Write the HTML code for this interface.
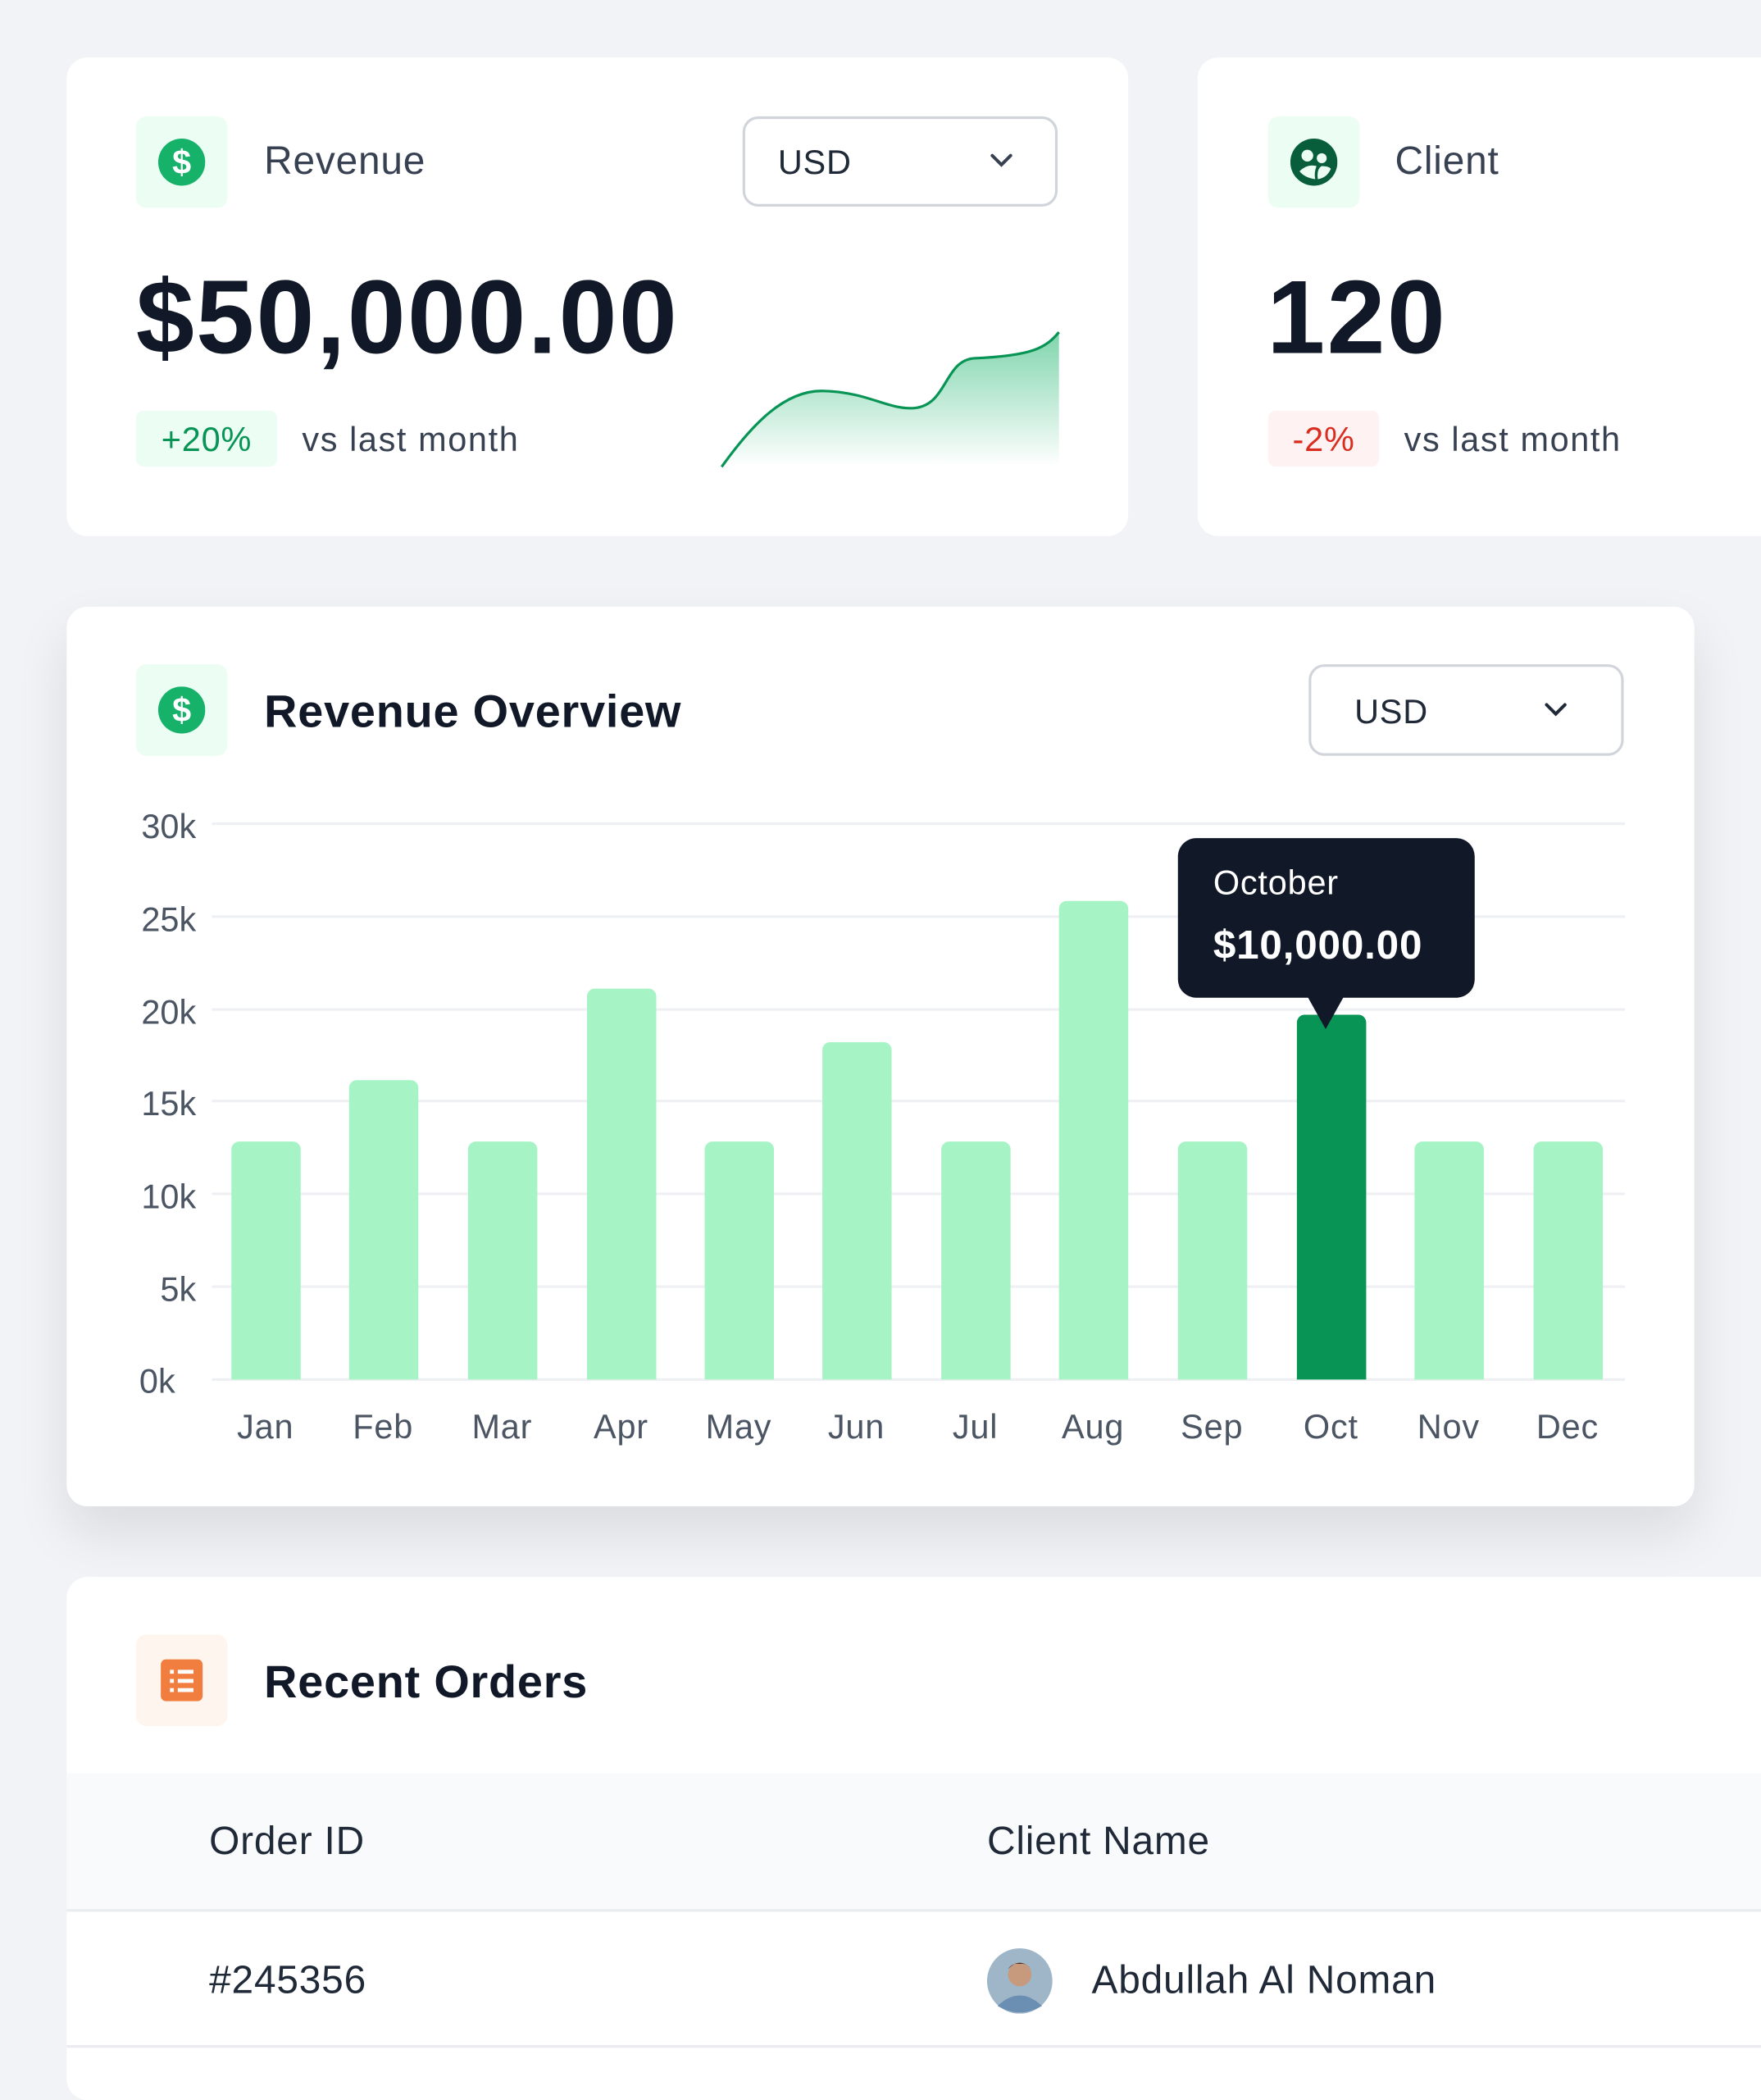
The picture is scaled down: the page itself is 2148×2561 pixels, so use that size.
<!DOCTYPE html>
<html><head><meta charset="utf-8"><style>
html,body{margin:0;padding:0;background:#f1f3f6;overflow:hidden}
body{width:2148px;height:2500px;font-family:"Liberation Sans",sans-serif}
#w{position:absolute;left:0;top:0;width:1347px;height:1568px;transform:scale(1.59466);transform-origin:0 0;}
.a{position:absolute}
.card{position:absolute;background:#fff;border-radius:16px}
.ib{position:absolute;width:70px;height:70px;border-radius:8px;background:#ecfdf3}
.t{position:absolute;white-space:nowrap;line-height:1;letter-spacing:0.5px}
.dd{position:absolute;border:2px solid #d1d5db;border-radius:12px;box-sizing:border-box;background:#fff}
.bar{position:absolute;width:53px;background:#a6f4c5;border-radius:6px 6px 0 0}
.gl{position:absolute;left:162px;width:1081px;height:2px;background:#eef0f3}
.yl{position:absolute;width:60px;left:90px;text-align:right;font-size:26px;color:#4b5563;line-height:1}
.ml{position:absolute;width:100px;text-align:center;font-size:26px;color:#4b5563;line-height:1;top:1078px;letter-spacing:0.5px}
</style></head><body><div id="w">

<!-- Card 1 -->
<div class="card" style="left:51px;top:44px;width:812px;height:366px"></div>
<div class="ib" style="left:104px;top:89px"></div>
<svg class="a" style="left:121px;top:106px" width="36" height="36" viewBox="0 0 36 36"><circle cx="18" cy="18" r="18" fill="#17b26a"/><text x="18" y="27" text-anchor="middle" font-family="Liberation Sans" font-weight="bold" font-size="26" fill="#fff">$</text></svg>
<div class="t" style="left:202px;top:109px;font-size:30px;color:#374151">Revenue</div>
<div class="dd" style="left:568px;top:89px;width:241px;height:69px"></div>
<div class="t" style="left:595px;top:111px;font-size:26px;color:#1f2937">USD</div>
<svg class="a" style="left:756px;top:116px" width="20" height="14"><path d="M3 3 L10 10 L17 3" stroke="#374151" stroke-width="2.5" fill="none" stroke-linecap="round"/></svg>
<div class="t" style="left:104px;top:203px;font-size:80px;font-weight:bold;color:#111827;letter-spacing:1.5px">$50,000.00</div>
<div class="a" style="left:104px;top:314px;width:108px;height:43px;border-radius:6px;background:#ecfdf3"></div>
<div class="t" style="left:104px;top:323px;width:108px;text-align:center;font-size:26px;color:#079455">+20%</div>
<div class="t" style="left:231px;top:323px;font-size:26px;color:#374151;letter-spacing:1px">vs last month</div>
<svg class="a" style="left:540px;top:240px" width="280" height="125" viewBox="540 240 280 125">
<defs><linearGradient id="g" x1="0" y1="0" x2="0" y2="1"><stop offset="0" stop-color="#17b26a" stop-opacity=".55"/><stop offset="1" stop-color="#17b26a" stop-opacity="0"/></linearGradient></defs>
<path d="M552 357 C575 325 600 298 630 299 C665 300 680 314 700 312 C725 309 722 276 745 274 C790 272 800 266 810 254 L810 355 L552 357 Z" fill="url(#g)"/>
<path d="M552 357 C575 325 600 298 630 299 C665 300 680 314 700 312 C725 309 722 276 745 274 C790 272 800 266 810 254" fill="none" stroke="#079455" stroke-width="2"/>
</svg>

<!-- Card 2 -->
<div class="card" style="left:916px;top:44px;width:460px;height:366px"></div>
<div class="ib" style="left:970px;top:89px"></div>
<svg class="a" style="left:987px;top:106px" width="36" height="36" viewBox="0 0 36 36"><circle cx="18" cy="18" r="18" fill="#085d3a"/><circle cx="13" cy="13" r="4.5" fill="#ecfdf3"/><circle cx="24" cy="15" r="3.8" fill="#ecfdf3"/><path d="M7 25 Q13 19 20 21 Q18 26 19 31 Q11 30 7 25Z" fill="#ecfdf3"/><path d="M21 31 Q20 23 24 21 Q29 21 31 23 Q28 30 21 31Z" fill="#ecfdf3"/></svg>
<div class="t" style="left:1067px;top:109px;font-size:30px;color:#374151">Client</div>
<div class="t" style="left:969px;top:203px;font-size:80px;font-weight:bold;color:#111827;letter-spacing:1.5px">120</div>
<div class="a" style="left:970px;top:314px;width:85px;height:43px;border-radius:6px;background:#fef3f2"></div>
<div class="t" style="left:970px;top:323px;width:85px;text-align:center;font-size:26px;color:#d92d20">-2%</div>
<div class="t" style="left:1074px;top:323px;font-size:26px;color:#374151;letter-spacing:1px">vs last month</div>

<!-- Card 3 -->
<div class="card" style="left:51px;top:464px;width:1245px;height:688px;box-shadow:0 20px 40px rgba(16,24,40,.10)"></div>
<div class="ib" style="left:104px;top:508px"></div>
<svg class="a" style="left:121px;top:525px" width="36" height="36" viewBox="0 0 36 36"><circle cx="18" cy="18" r="18" fill="#17b26a"/><text x="18" y="27" text-anchor="middle" font-family="Liberation Sans" font-weight="bold" font-size="26" fill="#fff">$</text></svg>
<div class="t" style="left:202px;top:527px;font-size:35px;font-weight:bold;color:#111827">Revenue Overview</div>
<div class="dd" style="left:1001px;top:508px;width:241px;height:70px"></div>
<div class="t" style="left:1036px;top:531px;font-size:26px;color:#1f2937">USD</div>
<svg class="a" style="left:1180px;top:536px" width="20" height="14"><path d="M3 3 L10 10 L17 3" stroke="#1f2937" stroke-width="2.5" fill="none" stroke-linecap="round"/></svg>

<div class="gl" style="top:629px"></div><div class="gl" style="top:700px"></div><div class="gl" style="top:771px"></div><div class="gl" style="top:841px"></div><div class="gl" style="top:912px"></div><div class="gl" style="top:983px"></div><div class="gl" style="top:1054px"></div>
<div class="yl" style="top:619px">30k</div><div class="yl" style="top:690px">25k</div><div class="yl" style="top:761px">20k</div><div class="yl" style="top:831px">15k</div><div class="yl" style="top:902px">10k</div><div class="yl" style="top:973px">5k</div><div class="yl" style="top:1043px;left:74px">0k</div>

<div class="bar" style="left:177px;top:873px;height:182px"></div>
<div class="bar" style="left:267px;top:826px;height:229px"></div>
<div class="bar" style="left:358px;top:873px;height:182px"></div>
<div class="bar" style="left:449px;top:756px;height:299px"></div>
<div class="bar" style="left:539px;top:873px;height:182px"></div>
<div class="bar" style="left:629px;top:797px;height:258px"></div>
<div class="bar" style="left:720px;top:873px;height:182px"></div>
<div class="bar" style="left:810px;top:689px;height:366px"></div>
<div class="bar" style="left:901px;top:873px;height:182px"></div>
<div class="bar" style="left:992px;top:776px;height:279px;background:#079455"></div>
<div class="bar" style="left:1082px;top:873px;height:182px"></div>
<div class="bar" style="left:1173px;top:873px;height:182px"></div>

<div class="ml" style="left:153px">Jan</div><div class="ml" style="left:243px">Feb</div><div class="ml" style="left:334px">Mar</div><div class="ml" style="left:425px">Apr</div><div class="ml" style="left:515px">May</div><div class="ml" style="left:605px">Jun</div><div class="ml" style="left:696px">Jul</div><div class="ml" style="left:786px">Aug</div><div class="ml" style="left:877px">Sep</div><div class="ml" style="left:968px">Oct</div><div class="ml" style="left:1058px">Nov</div><div class="ml" style="left:1149px">Dec</div>

<div class="a" style="left:901px;top:641px;width:227px;height:122px;background:#111827;border-radius:14px"></div>
<svg class="a" style="left:1000px;top:762px" width="28" height="28"><path d="M0 0 L28 0 L14 25 Z" fill="#111827"/></svg>
<div class="t" style="left:928px;top:662px;font-size:26px;color:#fff">October</div>
<div class="t" style="left:928px;top:707px;font-size:31px;font-weight:bold;color:#fff">$10,000.00</div>

<!-- Card 4 -->
<div class="card" style="left:51px;top:1206px;width:1330px;height:400px"></div>
<div class="ib" style="left:104px;top:1250px;background:#fef6ee"></div>
<svg class="a" style="left:122px;top:1268px" width="34" height="34" viewBox="0 0 34 34"><rect x="1" y="1" width="32" height="32" rx="4" fill="#ef6820" opacity=".85"/><g fill="#fff"><rect x="8" y="9" width="3" height="3"/><rect x="14" y="9" width="12" height="3"/><rect x="8" y="16" width="3" height="3"/><rect x="14" y="16" width="12" height="3"/><rect x="8" y="23" width="3" height="3"/><rect x="14" y="23" width="12" height="3"/></g></svg>
<div class="t" style="left:202px;top:1269px;font-size:35px;font-weight:bold;color:#111827">Recent Orders</div>
<div class="a" style="left:51px;top:1356px;width:1330px;height:104px;background:#f8fafc;border-bottom:2px solid #eaecf0"></div>
<div class="t" style="left:160px;top:1394px;font-size:30px;color:#1f2937">Order ID</div>
<div class="t" style="left:755px;top:1394px;font-size:30px;color:#1f2937">Client Name</div>
<div class="t" style="left:160px;top:1500px;font-size:30px;color:#1f2937">#245356</div>
<svg class="a" style="left:755px;top:1490px" width="50" height="50" viewBox="0 0 50 50"><circle cx="25" cy="25" r="25" fill="#9fb6c8"/><circle cx="25" cy="20" r="9" fill="#c79a7e"/><path d="M16 16 Q25 6 34 16 Q30 11 25 12 Q19 11 16 16Z" fill="#4a3428"/><path d="M8 44 Q25 28 42 44 Q25 54 8 44Z" fill="#6b8fb3"/></svg>
<div class="t" style="left:835px;top:1500px;font-size:30px;color:#1f2937">Abdullah Al Noman</div>
<div class="a" style="left:51px;top:1564px;width:1330px;height:2px;background:#eaecf0"></div>
</div></body></html>
